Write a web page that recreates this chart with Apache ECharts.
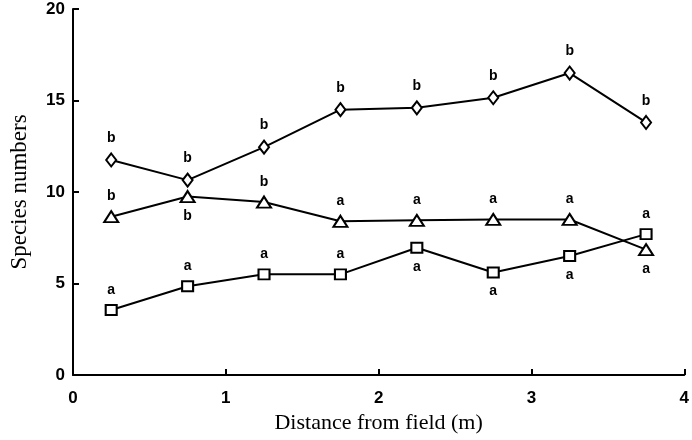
<!DOCTYPE html>
<html>
<head>
<meta charset="utf-8">
<script src="https://cdn.jsdelivr.net/npm/echarts@6/dist/echarts.min.js"></script>
<style>
html,body{margin:0;padding:0;background:#fff;}
#chart{width:692px;height:440px;}
</style>
</head>
<body>
<div id="chart"></div>
<script>
// ---- data ----
const distances = [0.25, 0.75, 1.25, 1.75, 2.25, 2.75, 3.25, 3.75];
const diamondValues = [11.75, 10.65, 12.45, 14.5, 14.6, 15.15, 16.5, 13.8];
const triangleValues = [8.65, 9.75, 9.45, 8.4, 8.45, 8.5, 8.5, 6.85];
const squareValues = [3.55, 4.85, 5.5, 5.5, 6.95, 5.6, 6.5, 7.7];
const diamondLetters = ['b','b','b','b','b','b','b','b'];
const triangleLetters = ['b','b','b','a','a','a','a','a'];
const squareLetters = ['a','a','a','a','a','a','a','a'];
const xTicks = [0, 1, 2, 3, 4];
const yTicks = [0, 5, 10, 15, 20];
// label side per point (presentation)
const diamondSide = ['top','top','top','top','top','top','top','top'];
const triangleSide = ['top','bottom','top','top','top','top','top','bottom'];
const squareSide = ['top','top','top','top','bottom','bottom','bottom','top'];

const chart = echarts.init(document.getElementById('chart'));

function makeSeries(name, values, letters, sides, symbol, size) {
  return {
    name: name,
    type: 'line',
    symbol: symbol,
    symbolSize: size,
    showAllSymbol: true,
    lineStyle: {color: '#000', width: 2},
    itemStyle: {color: '#fff', borderColor: '#000', borderWidth: 2},
    z: 3,
    data: values.map((v, i) => ({
      value: [distances[i], v],
      label: {
        show: true,
        position: sides[i],
        distance: sides[i] === 'top' ? 7 : 6,
        formatter: () => letters[i],
        color: '#000',
        fontFamily: 'Liberation Sans, Arial, sans-serif',
        fontWeight: 'bold',
        fontSize: 14
      }
    })),
    animation: false
  };
}

const tickFont = {
  color: '#000',
  fontFamily: 'Liberation Sans, Arial, sans-serif',
  fontWeight: 'bold',
  fontSize: 17
};

chart.setOption({
  backgroundColor: '#fff',
  animation: false,
  grid: {left: 69, right: 7, top: 9, bottom: 65, containLabel: false},
  xAxis: {
    type: 'value',
    min: xTicks[0],
    max: xTicks[xTicks.length - 1],
    interval: 1,
    name: 'Distance from field (m)',
    nameLocation: 'middle',
    nameGap: 36,
    nameTextStyle: {color: '#000', fontFamily: 'Liberation Serif, Times New Roman, serif', fontSize: 22},
    axisLine: {show: true, onZero: false, lineStyle: {color: '#000', width: 2}},
    axisTick: {show: true, inside: true, length: 6, lineStyle: {color: '#000', width: 2}},
    axisLabel: Object.assign({margin: 15, formatter: v => String(v)}, tickFont),
    splitLine: {show: false}
  },
  yAxis: {
    type: 'value',
    min: yTicks[0],
    max: yTicks[yTicks.length - 1],
    interval: 5,
    name: 'Species numbers',
    nameLocation: 'middle',
    nameGap: 42,
    nameRotate: 90,
    nameTextStyle: {color: '#000', fontFamily: 'Liberation Serif, Times New Roman, serif', fontSize: 23},
    axisLine: {show: true, onZero: false, lineStyle: {color: '#000', width: 2}},
    axisTick: {show: true, inside: true, length: 6, lineStyle: {color: '#000', width: 2}},
    axisLabel: Object.assign({margin: 8, formatter: v => String(v)}, tickFont),
    splitLine: {show: false}
  },
  series: [
    makeSeries('diamond', diamondValues, diamondLetters, diamondSide, 'diamond', [10, 13]),
    makeSeries('triangle', triangleValues, triangleLetters, triangleSide, 'triangle', [14, 11]),
    makeSeries('square', squareValues, squareLetters, squareSide, 'rect', [11, 10])
  ]
});
</script>
</body>
</html>
